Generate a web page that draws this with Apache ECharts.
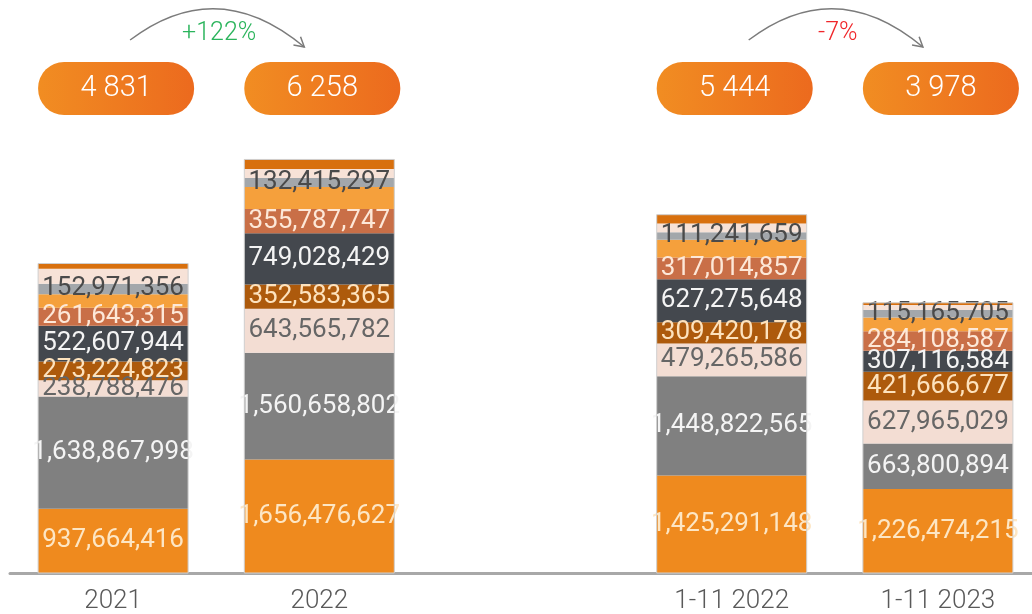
<!DOCTYPE html>
<html>
<head>
<meta charset="utf-8">
<script src="https://cdn.jsdelivr.net/npm/echarts@6/dist/echarts.min.js"></script>
<style>
  html, body { margin: 0; padding: 0; background: #fff; }
  #chart { width: 1032px; height: 614px; }
</style>
</head>
<body>
<div id="chart"></div>
<script>
// categories (empty slot keeps the gap between the two groups)
const categories = ['2021', '2022', '', '1-11 2022', '1-11 2023']

// stacked segments, bottom to top
const orangeVals = [937664416, 1656476627, '-', 1425291148, 1226474215]
const grayVals = [1638867998, 1560658802, '-', 1448822565, 663800894]
const beigeVals = [238788476, 643565782, '-', 479265586, 627965029]
const brownVals = [273224823, 352583365, '-', 309420178, 421666677]
const darkVals = [522607944, 749028429, '-', 627275648, 307116584]
const terraVals = [261643315, 355787747, '-', 317014857, 284108587]
const lightOrangeVals = [200000000, 320000000, '-', 260000000, 200000000]
const silverVals = [152971356, 132415297, '-', 111241659, 115165705]
const pinkVals = [220000000, 130000000, '-', 125000000, 70000000]
const topVals = [75000000, 140000000, '-', 130000000, 30000000]

// pills above the bars and the change arrows
const totalLabels = ['4 831', '6 258', '', '5 444', '3 978']
const changePairs = [[0, 1], [3, 4]]
const changeLabels = ['+122%', '-7%']
const changeColors = ['#2bb45c', '#f0262a']

const BAR_W = 150
const fmt = v => Number(v).toLocaleString('en-US')

function seg(name, data, color, labelColor) {
  return {
    name: name,
    type: 'bar',
    stack: 'total',
    barWidth: BAR_W,
    data: data,
    itemStyle: { color: color },
    label: {
      show: !!labelColor,
      position: 'inside',
      formatter: p => fmt(p.value),
      color: labelColor,
      fontFamily: 'Roboto',
      fontSize: 26
    }
  }
}

const stacks = [orangeVals, grayVals, beigeVals, brownVals, darkVals, terraVals, lightOrangeVals, silverVals, pinkVals, topVals]
// outline of the whole bar, height = sum of the segments
const outlineData = categories.map((c, i) => {
  if (orangeVals[i] === '-') return [i, '-']
  return [i, stacks.reduce((s, arr) => s + arr[i], 0)]
})

const myChart = echarts.init(document.getElementById('chart'))
const option = {
  animation: false,
  grid: { left: 10, width: 1031, top: 128, bottom: 41, outerBoundsMode: 'none', containLabel: false },
  xAxis: {
    type: 'category',
    data: categories,
    axisTick: { show: false },
    axisLine: { lineStyle: { color: '#a8a8a8', width: 3 } },
    axisLabel: { interval: 0, margin: 15, fontSize: 26, color: '#595959', fontFamily: 'Roboto', fontWeight: 300 }
  },
  yAxis: { type: 'value', min: 0, max: 6500000000, show: false },
  series: [
    seg('a', orangeVals, '#ef8a1e', '#fde6c4'),
    seg('b', grayVals, '#808080', '#f4f4f4'),
    seg('c', beigeVals, '#f3ddd3', '#666666'),
    seg('d', brownVals, '#ad5a0c', '#fde2bd'),
    seg('e', darkVals, '#44484e', '#f4f4f4'),
    seg('f', terraVals, '#c96f47', '#fde8d8'),
    seg('g', lightOrangeVals, '#f5a03c', null),
    seg('h', silverVals, '#a3a7ab', '#4a4a4a'),
    seg('i', pinkVals, '#f7e2d7', null),
    seg('j', topVals, '#d8700e', null),
    {
      type: 'custom',
      data: outlineData,
      z: 5,
      renderItem: (params, api) => {
        const base = api.coord([api.value(0), 0])
        const top = api.coord([api.value(0), api.value(1)])
        return {
          type: 'rect',
          shape: { x: base[0] - BAR_W / 2, y: top[1], width: BAR_W, height: base[1] - top[1] },
          style: { fill: 'none', stroke: '#cfcfcf', lineWidth: 1 }
        }
      }
    }
  ]
}
myChart.setOption(option)

// pills + arrows, placed from the category positions
const cx = i => myChart.convertToPixel({ gridIndex: 0 }, [i, 0])[0]
const pillGrad = () => new echarts.graphic.LinearGradient(0, 0, 1, 0, [
  { offset: 0, color: '#f18d22' },
  { offset: 1, color: '#ec6a1e' }
])
const graphics = []
totalLabels.forEach((t, i) => {
  if (!t) return
  const x = cx(i) + 3
  graphics.push({
    type: 'rect',
    shape: { x: x - 78, y: 62, width: 156, height: 53, r: 26 },
    style: { fill: pillGrad() }
  })
  graphics.push({
    type: 'text',
    style: { text: t, x: x, y: 89, fill: '#fff', fontSize: 29, fontWeight: 300, fontFamily: 'Roboto', align: 'center', verticalAlign: 'middle' }
  })
})
changePairs.forEach((pair, k) => {
  const x1 = cx(pair[0]) + 17
  const x2 = cx(pair[1]) - 15
  const y1 = 40
  const y2 = 47
  const cpx = (x1 + x2) / 2
  const cpy = -26
  graphics.push({
    type: 'bezierCurve',
    shape: { x1: x1, y1: y1, x2: x2, y2: y2, cpx1: cpx, cpy1: cpy },
    style: { stroke: '#7b7b7b', lineWidth: 1.5, fill: null }
  })
  // arrow head along the end tangent
  const dx = x2 - cpx
  const dy = y2 - cpy
  const len = Math.sqrt(dx * dx + dy * dy)
  const ux = dx / len
  const uy = dy / len
  const a = Math.PI / 6
  const L = 11
  const p1 = [x2 - L * (ux * Math.cos(a) - uy * Math.sin(a)), y2 - L * (uy * Math.cos(a) + ux * Math.sin(a))]
  const p2 = [x2 - L * (ux * Math.cos(a) + uy * Math.sin(a)), y2 - L * (uy * Math.cos(a) - ux * Math.sin(a))]
  graphics.push({
    type: 'polyline',
    shape: { points: [p1, [x2, y2], p2] },
    style: { stroke: '#7b7b7b', lineWidth: 1.5, fill: null }
  })
  graphics.push({
    type: 'text',
    style: {
      text: changeLabels[k], x: (x1 + x2) / 2 + 2, y: 34, fill: changeColors[k],
      fontSize: 25, fontWeight: 300, fontFamily: 'Roboto', align: 'center', verticalAlign: 'middle'
    }
  })
})
myChart.setOption({ graphic: graphics })
</script>
</body>
</html>
